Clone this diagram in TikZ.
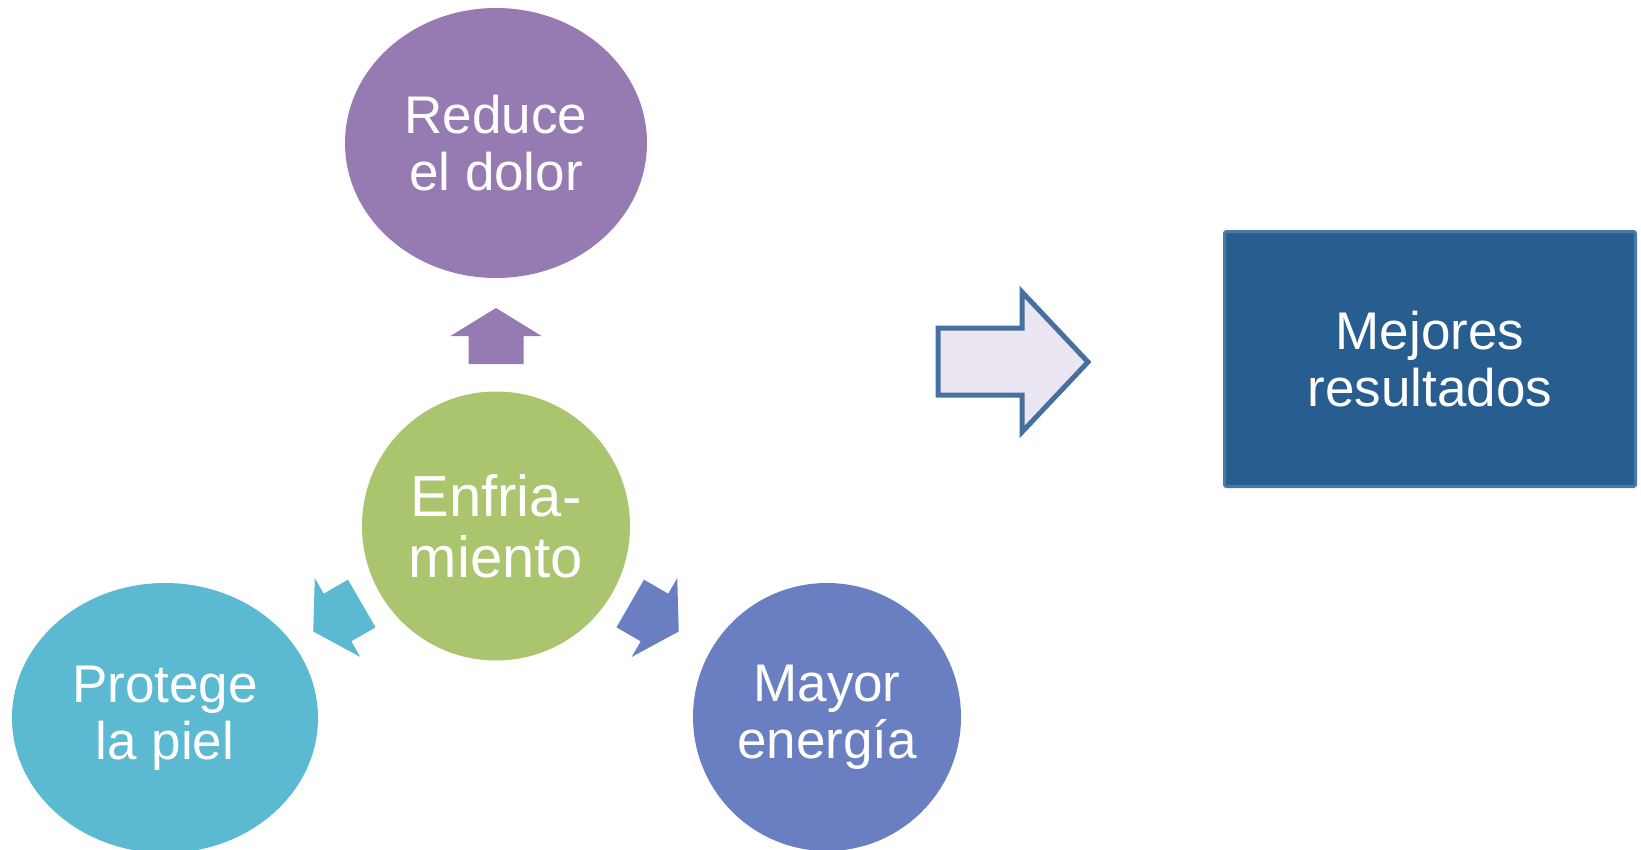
\documentclass[tikz,border=0pt]{standalone}
\usepackage{fontspec}
\setmainfont{Liberation Sans}
\usetikzlibrary{shapes.geometric}
\usetikzlibrary{positioning}
\definecolor{lila}{HTML}{957BB2}
\definecolor{verde}{HTML}{ABC46E}
\definecolor{celeste}{HTML}{5BB9D2}
\definecolor{azul}{HTML}{6A7EC2}
\definecolor{azuloscuro}{HTML}{285D8F}
\definecolor{bordeazul}{HTML}{4B78A6}
\definecolor{lavanda}{HTML}{EBE6F1}
\definecolor{flecha}{HTML}{46709F}

\begin{document}
\begin{tikzpicture}[x=1pt, y=1pt,
	every node/.style={text=white, align=center, inner sep=0pt, font=\fontsize{53}{57}\selectfont},
	bubble/.style={ellipse}]
			\useasboundingbox (0,0) rectangle (1641,-849);
			\node[bubble, fill=verde, minimum width=268, minimum height=269, font=\fontsize{58}{61}\selectfont] (frio) at (496,-526) {Enfria-\\miento};
			\node[bubble, fill=lila, minimum width=302, minimum height=270] (dolor) at (496,-143) {Reduce\\el dolor};
			\node[bubble, fill=celeste, minimum width=306, minimum height=270] (piel) at (165,-718) {Protege\\la piel};
			\node[bubble, fill=azul, minimum width=268, minimum height=268] (energia) at (827,-717) {Mayor\\energ\'ia};
			% small arrows out of the centre
			\foreach \ang/\col/\dist in {90/lila/190, 210/celeste/183, 330/azul/183}
				\fill[\col, shift={(frio.center)}, rotate=\ang, xshift=\dist]
					(28,0) -- (0,45.5) -- (0,27.5) -- (-28,27.5) -- (-28,-27.5) -- (0,-27.5) -- (0,-45.5) -- cycle;
			% big arrow
			\draw[line width=5, draw=flecha, fill=lavanda] (938,-328) -- (1022,-328) -- (1022,-292) -- (1088,-362)
				-- (1022,-432) -- (1022,-395) -- (938,-395) -- cycle;
			\node[draw=bordeazul, line width=3, fill=azuloscuro, minimum width=411, minimum height=255, rounded corners=2] (result) at (1430,-359) {Mejores\\resultados};
		\end{tikzpicture}
\end{document}
